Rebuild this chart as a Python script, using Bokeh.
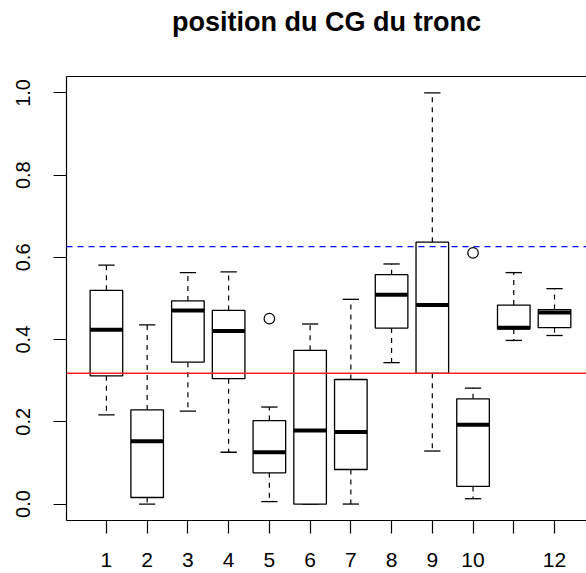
from bokeh.plotting import figure
from bokeh.models import FixedTicker, PrintfTickFormatter, LinearAxis, Span, ColumnDataSource, Range1d
from bokeh.embed import file_html
from bokeh.resources import INLINE

# ---- data ----
groups = [1, 2, 3, 4, 5, 6, 7, 8, 9, 10, 11, 12]
lower_whisker = [0.217, 0.000, 0.226, 0.126, 0.006, 0.000, 0.000, 0.344, 0.129, 0.013, 0.398, 0.410]
q1 = [0.312, 0.016, 0.345, 0.305, 0.076, 0.000, 0.084, 0.428, 0.318, 0.043, 0.426, 0.429]
median = [0.424, 0.153, 0.471, 0.421, 0.126, 0.179, 0.175, 0.509, 0.484, 0.193, 0.429, 0.466]
q3 = [0.520, 0.229, 0.494, 0.471, 0.203, 0.374, 0.303, 0.558, 0.637, 0.256, 0.484, 0.473]
upper_whisker = [0.581, 0.436, 0.563, 0.565, 0.236, 0.438, 0.498, 0.584, 1.000, 0.282, 0.563, 0.524]
outlier_group = [5, 10]
outlier_value = [0.451, 0.611]
x_tick_labels = ["1", "2", "3", "4", "5", "6", "7", "8", "9", "10", "", "12"]
y_ticks = [0.0, 0.2, 0.4, 0.6, 0.8, 1.0]
red_line = 0.318
blue_line = 0.626
title_text = "position du CG du tronc"

FONT = "Liberation Sans"
box_w = 0.8
cap_w = 0.4

p = figure(width=586, height=573, output_backend="svg", toolbar_location=None,
           x_range=Range1d(0.02, 12.785), y_range=Range1d(-0.04, 1.04),
           min_border_left=66, min_border_right=0, min_border_top=76, min_border_bottom=53,
           x_axis_location=None, y_axis_location=None)
p.outline_line_color = None
p.grid.visible = False
p.background_fill_color = "white"
p.border_fill_color = "white"

# axes
xaxis = LinearAxis(ticker=FixedTicker(ticks=groups),
                   major_label_overrides={g: lab for g, lab in zip(groups, x_tick_labels)})
yaxis = LinearAxis(ticker=FixedTicker(ticks=y_ticks), formatter=PrintfTickFormatter(format="%.1f"))
top_axis = LinearAxis(ticker=FixedTicker(ticks=[]))
for ax in (xaxis, yaxis, top_axis):
    ax.axis_line_color = "black"
    ax.axis_line_width = 1.2
    ax.major_tick_line_color = "black"
    ax.major_tick_line_width = 1.2
    ax.major_tick_out = 13
    ax.major_tick_in = 0
    ax.minor_tick_line_color = None
    ax.major_label_text_font = FONT
    ax.major_label_text_color = "black"
xaxis.major_label_text_font_size = "21px"
xaxis.major_label_standoff = 19
yaxis.major_label_text_font_size = "20px"
yaxis.major_label_orientation = "vertical"
yaxis.major_label_standoff = 23

# top frame line + title as its label
top_axis.major_tick_line_color = None
top_axis.major_label_text_font_size = "0px"
top_axis.major_label_standoff = 0
top_axis.major_tick_out = 0
top_axis.axis_label = title_text
top_axis.axis_label_text_font = FONT
top_axis.axis_label_text_font_size = "27px"
top_axis.axis_label_text_font_style = "bold"
top_axis.axis_label_text_color = "black"
top_axis.axis_label_standoff = 40

p.add_layout(xaxis, "below")
p.add_layout(yaxis, "left")
p.add_layout(top_axis, "above")

# reference lines
p.add_layout(Span(location=red_line, dimension="width", line_color="#FF2020", line_width=1.5))
p.add_layout(Span(location=blue_line, dimension="width", line_color="#0000FF", line_width=1.3,
                  line_dash="6 5"))

src = ColumnDataSource(dict(x=groups, lw=lower_whisker, q1=q1, med=median, q3=q3, uw=upper_whisker,
                            left=[g - box_w / 2 for g in groups], right=[g + box_w / 2 for g in groups],
                            cl=[g - cap_w / 2 for g in groups], cr=[g + cap_w / 2 for g in groups]))

# whiskers (dashed)
p.segment(x0="x", y0="q3", x1="x", y1="uw", source=src, line_color="black", line_width=1.2, line_dash="5 5")
p.segment(x0="x", y0="q1", x1="x", y1="lw", source=src, line_color="black", line_width=1.2, line_dash="5 5")
# caps
p.segment(x0="cl", y0="uw", x1="cr", y1="uw", source=src, line_color="black", line_width=1.3)
p.segment(x0="cl", y0="lw", x1="cr", y1="lw", source=src, line_color="black", line_width=1.3)
# boxes
p.quad(left="left", right="right", bottom="q1", top="q3", source=src,
       fill_color="white", line_color="black", line_width=1.3)
# medians
p.segment(x0="left", y0="med", x1="right", y1="med", source=src, line_color="black", line_width=4)
# outliers
p.scatter(x=outlier_group, y=outlier_value, marker="circle", size=10.5,
          fill_color=None, line_color="black", line_width=1.2)

open("out.html", "w").write(file_html(p, INLINE))
